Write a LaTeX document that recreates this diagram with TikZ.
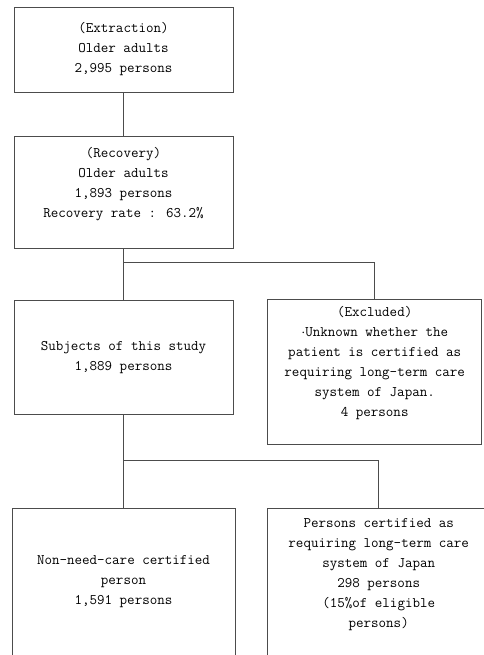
\documentclass[tikz,border=0pt]{standalone}
\usepackage{fontspec}
\usepackage{tikz}
\usetikzlibrary{shapes, positioning}
\tikzstyle{block} = [draw=black!70, line width=0.7pt, fill=white, rectangle,
    align=center, inner sep=2pt, text=black,
    font=\ttfamily\fontsize{14.6}{20}\selectfont]
\tikzstyle{split} = [coordinate]
\tikzstyle{line} = [draw=black!70, line width=0.7pt]

\begin{document}
\begin{tikzpicture}[auto, node distance=44pt]
    \useasboundingbox (0pt,0pt) rectangle (483pt,-655pt);
    \node [block, minimum width=219pt, minimum height=85pt] (ext) at (123.5pt,-49.5pt)
        {(Extraction)\\Older adults\\2,995 persons};
    \node [block, below=of ext, minimum width=219pt, minimum height=112pt] (rec)
        {(Recovery)\\Older adults\\1,893 persons\\Recovery rate : 63.2\%\\ \mbox{}};
    \node [block, below=51pt of rec, minimum width=219pt, minimum height=114pt] (subj)
        {Subjects of this study\\1,889 persons};
    \node [block, below right=-1pt and 34pt of subj.north east, minimum width=214pt,
        minimum height=145pt] (excl)
        {(Excluded)\\$\cdot$Unknown whether the\\patient is certified as\\requiring long-term care\\system of Japan.\\4 persons\\ \mbox{}};
    \node [block, below=93pt of subj, minimum width=223pt, minimum height=147pt] (noncare)
        {Non-need-care certified\\person\\1,591 persons};
    \node [block, below right=0pt and 32pt of noncare.north east, minimum width=222pt,
        minimum height=150pt] (care)
        {Persons certified as\\requiring long-term care\\system of Japan\\298 persons\\(15\%of eligible\\persons)\\ \mbox{}};
    \node [split, below=13pt of rec.south] (split1) {};
    \node [split, below=46pt of subj.south] (split2) {};
    \draw [line] (ext) -- (rec);
    \draw [line] (rec) -- (subj);
    \draw [line] (split1) -| (excl.north);
    \draw [line] (subj) -- (noncare);
    \draw [line] (split2) -| (care.north);
\end{tikzpicture}
\end{document}
